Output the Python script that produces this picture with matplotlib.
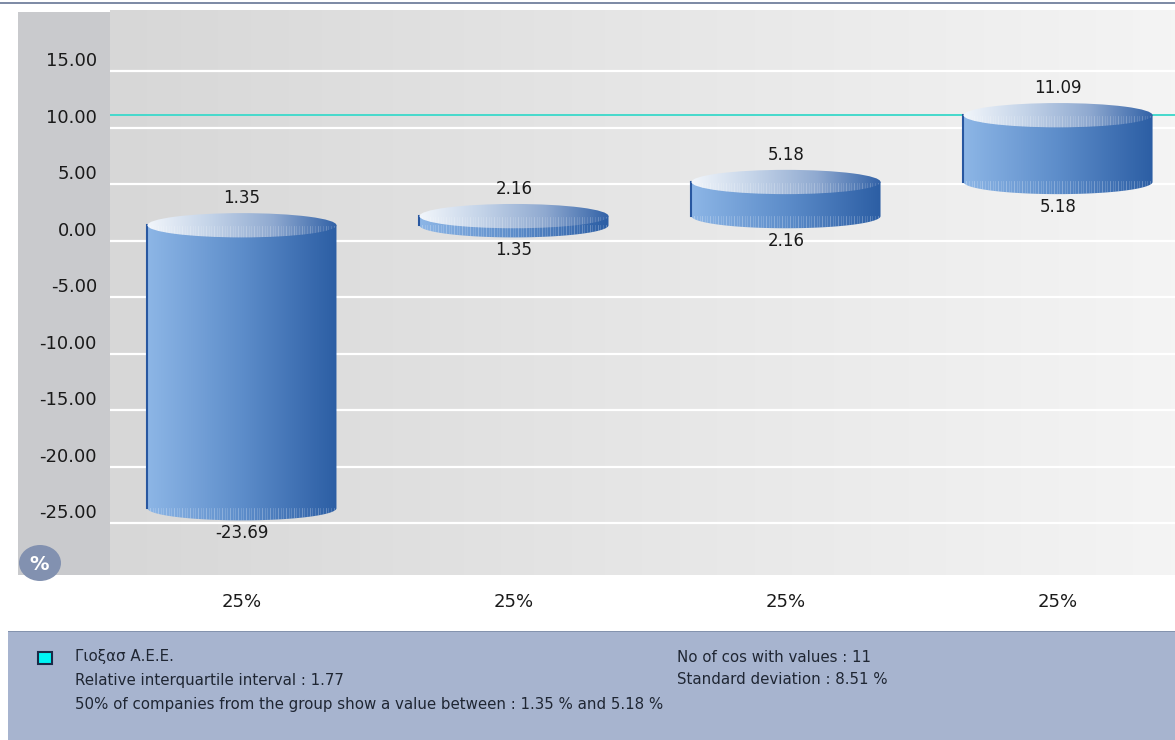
import numpy as np
import matplotlib
matplotlib.use('Agg')
import matplotlib.pyplot as plt
from matplotlib.colors import LinearSegmentedColormap
from matplotlib.patches import Rectangle, Ellipse, Polygon
from matplotlib.transforms import blended_transform_factory

# ---------------- data ----------------
categories = ['25%', '25%', '25%', '25%']
lows = [-23.69, 1.35, 2.16, 5.18]
highs = [1.35, 2.16, 5.18, 11.09]
company_value = 11.09
company_name = 'Γιοξασ Α.Ε.Ε.'
yticks = [15, 10, 5, 0, -5, -10, -15, -20, -25]
stats_left = ['Relative interquartile interval : 1.77',
              '50% of companies from the group show a value between : 1.35 % and 5.18 %']
stats_right = ['No of cos with values : 11', 'Standard deviation : 8.51 %']

W, H = 1175, 740
fig = plt.figure(figsize=(W / 100, H / 100), dpi=100)
fig.patch.set_facecolor('white')

def fx(x):
    return x / W

def fy(y):
    return 1 - y / H

# top rule
fig.add_artist(Rectangle((0, fy(4)), 1, 2 / H, transform=fig.transFigure,
                         facecolor='#7f8ca6', edgecolor='none'))
# left grey strip
fig.add_artist(Rectangle((fx(18), fy(575)), fx(110 - 18), (575 - 12) / H,
                         transform=fig.transFigure, facecolor='#c9cacd',
                         edgecolor='none', zorder=0))
# legend / stats panel
fig.add_artist(Rectangle((fx(8), 0), 1 - fx(8), (740 - 631) / H,
                         transform=fig.transFigure, facecolor='#a7b4cf',
                         edgecolor='none', zorder=0))
fig.add_artist(Rectangle((fx(8), fy(632)), 1 - fx(8), 1.5 / H,
                         transform=fig.transFigure, facecolor='#8493ae',
                         edgecolor='none', zorder=1))

ax = fig.add_axes([fx(110), fy(575), fx(1175 - 110), (575 - 10) / H])
ax.set_zorder(2)
ax.patch.set_alpha(0)

xmin, xmax = -0.485, 3.43
ymin, ymax = -29.6, 20.4

# background gradient
bg = LinearSegmentedColormap.from_list('bg', ['#d7d7d7', '#e6e6e6', '#f4f4f4'])
ax.imshow(np.linspace(0, 1, 256).reshape(1, -1), cmap=bg, aspect='auto',
          extent=[0, 1, 0, 1], transform=ax.transAxes, zorder=0)

# grid lines
for t in yticks:
    ax.axhline(t, color='white', lw=1.6, zorder=1)

body_cmap = LinearSegmentedColormap.from_list('body', ['#8db6e6', '#5d8dca', '#2c5ea4'])
top_cmap = LinearSegmentedColormap.from_list('top', ['#f2f6fb', '#c3d3e8', '#8fa9d0', '#3262a7'])
grad = np.linspace(0, 1, 256).reshape(1, -1)

bw = 0.695
eh = 2.15  # ellipse height in data units

for i, (lo, hi) in enumerate(zip(lows, highs)):
    x0, x1 = i - bw / 2, i + bw / 2
    th = np.linspace(0, -np.pi, 80)
    arc = np.column_stack([i + bw / 2 * np.cos(th), lo + eh / 2 * np.sin(th)])
    pts = np.vstack([[x1, hi], arc, [x0, hi]])
    body = Polygon(pts, closed=True, facecolor='none', edgecolor='none', zorder=3)
    ax.add_patch(body)
    im = ax.imshow(grad, cmap=body_cmap, aspect='auto',
                   extent=[x0, x1, lo - eh, hi + eh], zorder=3)
    im.set_clip_path(body)
    # stripes on bottom ellipse
    for k, xx in enumerate(np.linspace(x0 + 0.01, x1 - 0.01, 70)):
        ln, = ax.plot([xx, xx], [lo - eh / 2, lo + 0.05], color='white',
                      lw=0.6, alpha=0.18 + 0.12 * (k % 3 == 0), zorder=3.5)
        ln.set_clip_path(body)
    ax.plot([x0, x0], [lo, hi], color='#2857a0', lw=1.5, zorder=4)
    # top ellipse
    top = Ellipse((i, hi), bw, eh, facecolor='none', edgecolor='none', zorder=5)
    ax.add_patch(top)
    im2 = ax.imshow(grad, cmap=top_cmap, aspect='auto',
                    extent=[x0, x1, hi - eh, hi + eh], zorder=5)
    im2.set_clip_path(top)
    for k, xx in enumerate(np.linspace(x0 + 0.01, x1 - 0.01, 70)):
        ln, = ax.plot([xx, xx], [hi - eh / 2, hi - eh * 0.05], color='white',
                      lw=0.6, alpha=0.15 + 0.1 * (k % 3 == 0), zorder=5.5)
        ln.set_clip_path(top)
    ax.annotate(f'{hi:.2f}', (i, hi), xytext=(0, 27), textcoords='offset pixels',
                ha='center', va='center', fontsize=12, color='#1a1a1a', zorder=6)
    ax.annotate(f'{lo:.2f}', (i, lo), xytext=(0, -25), textcoords='offset pixels',
                ha='center', va='center', fontsize=12, color='#1a1a1a', zorder=6)

# company line
ax.axhline(company_value, color='#45d9cc', lw=1.4, zorder=2)

ax.set_xlim(xmin, xmax)
ax.set_ylim(ymin, ymax)
ax.set_yticks(yticks)
ax.set_yticklabels([])
ax.tick_params(axis='y', length=0)
ax.set_xticks([])
for s in ax.spines.values():
    s.set_visible(False)

# y tick labels (placed slightly above the grid lines, as in the reference)
ytr = blended_transform_factory(ax.transAxes, ax.transData)
for t in yticks:
    ax.annotate(f'{t:.2f}', xy=(0, t), xycoords=ytr, xytext=(-13, 10),
                textcoords='offset pixels', ha='right', va='center',
                fontsize=13, color='#1a1a1a', annotation_clip=False)

# category labels
tr = blended_transform_factory(ax.transData, fig.transFigure)
for i, c in enumerate(categories):
    ax.text(i, fy(602), c, transform=tr, ha='center', va='center',
            fontsize=13, color='#1a1a1a', clip_on=False)

# % badge
fig.add_artist(Ellipse((fx(40), fy(563)), 42 / W, 36 / H, transform=fig.transFigure,
                       facecolor='#8291b0', edgecolor='none', zorder=5))
fig.text(fx(39), fy(564), '%', ha='center', va='center', fontsize=14,
         fontweight='bold', color='white', zorder=6)

# legend panel contents
fig.add_artist(Rectangle((fx(38), fy(664)), 14 / W, 12 / H, transform=fig.transFigure,
                         facecolor='#00f5f5', edgecolor='#1b2a48', lw=1.5, zorder=3))
tc = '#1f2633'
fs = 10.8
fig.text(fx(75), fy(657), company_name, fontsize=fs, color=tc, va='center')
fig.text(fx(75), fy(680), stats_left[0], fontsize=fs, color=tc, va='center')
fig.text(fx(75), fy(704), stats_left[1], fontsize=fs, color=tc, va='center')
fig.text(fx(677), fy(657), stats_right[0], fontsize=fs, color=tc, va='center')
fig.text(fx(677), fy(680), stats_right[1], fontsize=fs, color=tc, va='center')

fig.savefig('out.png', dpi=100, facecolor='white')
